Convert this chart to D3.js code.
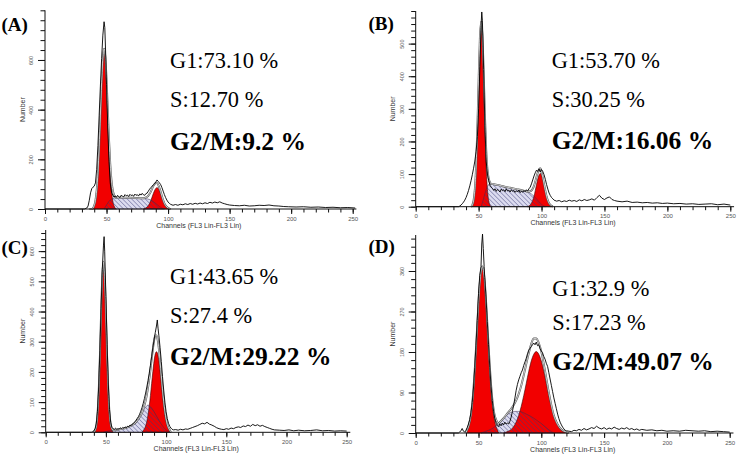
<!DOCTYPE html>
<html><head><meta charset="utf-8">
<script src="https://cdn.jsdelivr.net/npm/d3@7"></script>
<style>body{margin:0;background:#fff}svg{display:block}</style>
</head><body>
<svg id="chart" width="750" height="456"></svg>
<script>
// ---------------- DATA ----------------
const panelLabels = ["(A)", "(B)", "(C)", "(D)"];
const xTickValues = [0, 50, 100, 150, 200, 250];
const xTitle = "Channels (FL3 Lin-FL3 Lin)";
const yTitle = "Number";

const yTicksA = [0, 200, 400, 600];
const yTicksB = [0, 100, 200, 300, 400, 500];
const yTicksC = [0, 100, 200, 300, 400, 500, 600];
const yTicksD = [0, 90, 180, 270, 360];

const statsA = ["G1:73.10 %", "S:12.70 %", "G2/M:9.2 %"];
const statsB = ["G1:53.70 %", "S:30.25 %", "G2/M:16.06 %"];
const statsC = ["G1:43.65 %", "S:27.4 %", "G2/M:29.22 %"];
const statsD = ["G1:32.9 %", "S:17.23 %", "G2/M:49.07 %"];

// raw histograms [channel, count]
const rawA = [[0,0],[32,0],[34,4],[35,12],[36,35],[37,65],[38,82],[39,88],[40,92],[41,105],[42,160],[43,255],[44,375],[45,495],[46,605],[47,700],[48,754],[48.6,730],[49.2,640],[50,500],[51,330],[52,190],[53,105],[54,68],[55,56],[56,48],[57,53],[58,47],[59,55],[60,49],[61,46],[62,56],[63,51],[64,49],[65,58],[66,53],[67,56],[68,50],[69,59],[70,54],[71,57],[72,51],[73,60],[74,55],[75,58],[76,52],[77,61],[78,56],[79,63],[80,57],[81,55],[82,62],[83,64],[84,72],[85,80],[86,86],[87,92],[88,97],[89,101],[90,108],[91,117],[92,111],[93,105],[94,98],[95,86],[96,72],[97,58],[98,46],[99,36],[100,28],[101,23],[102,19],[104,15],[106,18],[108,15],[110,19],[112,17],[114,21],[116,18],[118,22],[120,19],[122,23],[124,20],[126,24],[128,21],[130,25],[132,22],[134,27],[136,24],[138,28],[140,25],[142,29],[144,24],[146,21],[148,18],[150,16],[154,14],[158,13],[162,15],[166,12],[170,13],[174,15],[178,14],[182,16],[186,13],[190,12],[194,10],[198,9],[204,8],[210,9],[216,7],[222,8],[228,6],[234,7],[240,5],[246,6],[252,4]];
const rawB = [[0,0],[34,0],[35,2],[36,5],[37,9],[38,14],[39,20],[40,28],[41,38],[42,50],[43,64],[44,80],[45,98],[46,118],[47,140],[48,170],[49,215],[50,300],[51,430],[52,560],[52.5,597],[53,570],[54,420],[55,250],[56,140],[57,100],[58,80],[59,66],[60,60],[61,56],[62,50],[63,55],[64,47],[65,53],[66,50],[67,45],[68,54],[69,49],[70,52],[71,46],[72,55],[73,48],[74,51],[75,45],[76,52],[77,47],[78,50],[79,44],[80,49],[81,45],[82,51],[83,43],[84,48],[85,44],[86,50],[87,46],[88,52],[89,48],[90,55],[91,60],[92,70],[93,82],[94,94],[95,104],[96,112],[97,108],[98,116],[99,106],[100,114],[101,108],[102,98],[103,84],[104,68],[105,54],[106,42],[107,34],[108,28],[109,24],[110,20],[112,17],[114,19],[116,15],[118,18],[120,16],[122,20],[124,17],[126,19],[128,16],[130,21],[132,18],[134,22],[136,19],[138,21],[140,24],[142,20],[144,28],[146,35],[148,26],[150,22],[152,27],[154,30],[156,22],[158,19],[160,17],[164,15],[168,17],[172,13],[176,14],[180,12],[184,13],[188,11],[192,12],[196,10],[200,11],[205,9],[210,10],[215,8],[220,9],[225,7],[230,8],[235,9],[240,6],[245,8],[250,5]];
const rawC = [[0,0],[38,0],[39,2],[40,5],[41,12],[42,28],[43,70],[44,150],[45,270],[46,410],[47,540],[48,620],[48.5,648],[49,600],[50,450],[51,290],[52,160],[53,75],[54,32],[55,16],[56,12],[57,10],[58,14],[59,9],[60,12],[61,10],[62,15],[63,12],[64,16],[65,13],[66,18],[67,15],[68,20],[69,18],[70,24],[71,22],[72,28],[73,30],[74,35],[75,40],[76,46],[77,52],[78,60],[79,70],[80,82],[81,96],[82,112],[83,130],[84,150],[85,172],[86,196],[87,222],[88,250],[89,280],[90,305],[91,330],[92,352],[92.7,372],[93.3,345],[94,320],[95,280],[96,235],[97,185],[98,140],[99,100],[100,68],[101,45],[102,30],[103,20],[104,14],[105,10],[106,8],[108,9],[110,7],[112,10],[114,8],[116,11],[118,10],[120,13],[122,16],[124,19],[126,22],[128,26],[130,30],[132,28],[134,33],[136,27],[138,24],[140,20],[142,15],[144,12],[146,10],[148,9],[150,12],[152,10],[154,14],[156,12],[158,16],[160,18],[162,16],[164,21],[166,19],[168,24],[170,20],[172,26],[174,22],[176,25],[178,20],[180,23],[182,19],[184,16],[186,13],[188,10],[190,8],[194,7],[198,6],[202,8],[206,5],[210,7],[215,5],[220,6],[225,8],[230,5],[235,6],[240,4],[245,5],[250,4]];
const rawD = [[0,0],[34,0],[35,2],[36,5],[37,10],[38,4],[39,2],[40,6],[41,12],[42,20],[43,30],[44,45],[45,68],[46,100],[47,145],[48,195],[49,250],[50,310],[51,350],[52,370],[52.6,420],[53.2,442],[53.8,410],[54.5,370],[55,345],[56,300],[57,248],[58,196],[59,146],[60,104],[61,72],[62,48],[63,32],[64,22],[65,16],[66,14],[67,20],[68,16],[69,22],[70,18],[71,24],[72,20],[73,22],[74,20],[75,26],[76,35],[77,48],[78,62],[79,78],[80,95],[81,108],[82,118],[83,126],[84,134],[85,140],[86,150],[87,158],[88,166],[89,176],[90,184],[91,188],[92,192],[93,196],[94,200],[95,196],[96,202],[97,194],[98,196],[99,188],[100,182],[101,178],[102,170],[103,164],[104,155],[105,148],[106,134],[107,120],[108,106],[109,92],[110,78],[111,66],[112,54],[113,42],[114,32],[115,24],[116,18],[117,13],[118,9],[119,6],[120,5],[122,4],[124,3],[126,6],[128,5],[130,8],[132,6],[134,10],[136,7],[138,9],[140,12],[142,10],[144,15],[146,11],[148,9],[150,12],[152,8],[154,11],[156,9],[158,13],[160,10],[162,8],[164,11],[166,9],[168,12],[170,8],[172,10],[174,7],[176,9],[178,6],[180,8],[184,6],[188,7],[192,5],[196,6],[200,4],[205,5],[210,4],[215,6],[220,5],[225,4],[230,5],[235,3],[240,4],[245,3],[250,2]];

// model components: G1 peak, G2 peak, S phase, total fit
const g1A = [[38,0],[39,4],[40,14],[41,35],[42,76],[43,146],[44,250],[45,378],[46,508],[47,607],[48,645],[49,607],[50,508],[51,378],[52,250],[53,146],[54,76],[55,35],[56,14],[57,4],[58,0]];
const g2A = [[80,0],[81,2],[82,4.5],[83,8],[84,14],[85,23],[86,34],[87,48],[88,62],[89,74],[90,83],[91,86],[92,83],[93,74],[94,62],[95,48],[96,34],[97,23],[98,14],[99,8],[100,4.5],[101,2],[102,0]];
const sA = [[48,0],[49,8],[50,16],[51,24],[52,31],[53,36],[54,40],[55,43],[57,45],[60,46],[65,45],[70,45],[75,44],[80,43],[83,41],[85,38],[87,33],[89,26],[91,18],[93,10],[95,4],[97,0]];
const fitA = [[36,0],[38,0],[39,4],[40,14],[41,35],[42,76],[43,146],[44,250],[45,378],[46,508],[47,607],[48,645],[49,615],[50,524],[51,402],[52,281],[53,182],[54,116],[55,78],[56,58],[57,49],[58,45.5],[60,46],[70,45],[80,43],[81,44],[82,46.5],[83,49],[84,54],[85,61],[86,70],[87,81],[88,92],[89,100],[90,105],[91,104],[92,97],[93,84],[94,69],[95,52],[96,36],[97,23],[98,14],[99,8],[100,4.5],[101,2],[102,0]];

const g1B = [[44,0],[45,5],[46,19],[47,53],[48,125],[49,242],[50,388],[51,516],[52,567],[53,516],[54,388],[55,242],[56,125],[57,53],[58,19],[59,5],[60,0]];
const g2B = [[89,0],[90,2.5],[91,5.4],[92,10.8],[93,19.6],[94,32],[95,49],[96,67.5],[97,85],[98,97],[99,102],[100,97],[101,85],[102,67.5],[103,49],[104,32],[105,19.6],[106,10.8],[107,5.4],[108,2.5],[109,0]];
const sB = [[52,0],[53,12],[54,26],[55,40],[56,52],[57,62],[58,68],[59,70],[62,69],[66,66],[70,62],[75,58],[80,54],[85,50],[88,47],[90,44],[92,39],[94,32],[96,24],[98,15],[100,7],[102,2],[103,0]];
const fitB = [[44,0],[45,5],[46,19],[47,53],[48,125],[49,242],[50,388],[51,516],[52,567],[53,528],[54,414],[55,282],[56,177],[57,115],[58,87],[59,75],[60,70],[62,69],[66,66],[70,62],[75,58],[80,54],[85,50],[88,47],[89,45.5],[90,46.5],[91,47.4],[92,49.8],[93,55],[94,64],[95,77],[96,91.5],[97,104.5],[98,114],[99,118],[100,108],[101,90],[102,70],[103,50],[104,32],[105,19.6],[106,10.8],[107,5.4],[108,2.5],[109,0]];

const g1C = [[40,0],[41,6.6],[42,21.6],[43,59],[44,133],[45,250],[46,393],[47,516],[48,565],[49,516],[50,393],[51,250],[52,133],[53,59],[54,21.6],[55,6.6],[56,0]];
const g2C = [[80,0],[81,6],[82,11.7],[83,21],[84,36],[85,58],[86,87],[87,122],[88,162],[89,201],[90,236],[91,259],[92,267],[93,259],[94,236],[95,201],[96,162],[97,122],[98,87],[99,58],[100,36],[101,21],[102,11.7],[103,6],[104,0]];
const sC = [[48,0],[52,4],[56,7],[60,9],[64,12],[68,16],[72,24],[75,34],[78,50],[80,64],[82,78],[84,88],[85,90],[86,88],[88,80],[90,68],[92,54],[94,40],[96,27],[98,16],[100,8],[102,3],[104,0]];
const fitC = [[40,0],[41,6.6],[42,21.6],[43,59],[44,133],[45,250],[46,393],[47,516],[48,565],[49,517],[50,395],[51,252],[52,137],[53,64],[54,26],[55,11.5],[56,7],[60,9],[64,12],[68,16],[72,24],[75,34],[78,50],[80,64],[81,77],[82,89.7],[83,104],[84,124],[85,148],[86,175],[87,207],[88,242],[89,275],[90,304],[91,320],[92,321],[93,306],[94,276],[95,234],[96,189],[97,144],[98,103],[99,70],[100,44],[101,26],[102,14.7],[103,7.5],[104,0]];

const g1D = [[40,0],[41,7.6],[42,14],[43,25],[44,41],[45,65],[46,98],[47,140],[48,188],[49,240],[50,290],[51,332],[52,360],[53,370],[54,360],[55,332],[56,290],[57,240],[58,188],[59,140],[60,98],[61,65],[62,41],[63,25],[64,14],[65,7.6],[66,0]];
const g2D = [[70,0],[72,2],[74,4.2],[76,7.9],[78,14.4],[80,24.5],[82,39],[84,59],[86,83],[88,110],[90,137],[92,160],[94,175],[96,181],[98,175],[100,160],[102,137],[104,110],[106,83],[108,59],[110,39],[112,24.5],[114,14.4],[116,7.9],[118,4.2],[120,2],[122,0]];
const sD = [[52,0],[55,3],[58,6],[61,10],[64,16],[67,24],[70,33],[73,41],[76,46],[79,48],[82,48],[85,46],[88,42],[91,38],[94,33],[97,27],[100,21],[103,14],[106,7],[108,3],[110,0]];
const fitD = [[40,0],[41,7.6],[42,14],[43,25],[44,41],[45,65],[46,98],[47,140],[48,188],[49,240],[50,290],[51,332],[52,360],[53,370],[54,361],[55,335],[56,294],[57,245],[58,194],[59,148],[60,107],[61,75],[62,53],[63,38],[64,30],[65,24],[66,21],[67,24],[68,27],[70,33],[72,40],[74,47],[76,54],[78,62],[80,72.5],[82,87],[84,105],[86,128],[88,153],[90,177],[92,198],[94,210],[96,210],[98,200],[100,181],[102,153],[104,122],[106,90],[108,62],[110,39],[112,24.5],[114,14.4],[116,7.9],[118,4.2],[120,2],[122,0]];

// ---------------- LAYOUT ----------------
const layout = [
  {x0:45,    x1:352.7, y0:209,   yTop:10.3, ymax:800, minor:40, lx:1.5, ly:31,  tx:170,   ty:[68.3,107.3,150]},
  {x0:415.7, x1:730.3, y0:206.7, yTop:11,   ymax:600, minor:20, lx:368.5, ly:29.5, tx:551.7, ty:[68.3,107.3,149.3]},
  {x0:45.7,  x1:346.7, y0:432.3, yTop:230,  ymax:670, minor:20, lx:1.5, ly:254, tx:170,   ty:[284,323,364.7]},
  {x0:415.7, x1:729.7, y0:433,   yTop:235,  ymax:440, minor:18, lx:368.5, ly:253, tx:552.3, ty:[296.3,329.7,369.7]}
];
const panels = [
  {raw:rawA, g1:g1A, g2:g2A, s:sA, fit:fitA, yTicks:yTicksA, stats:statsA},
  {raw:rawB, g1:g1B, g2:g2B, s:sB, fit:fitB, yTicks:yTicksB, stats:statsB},
  {raw:rawC, g1:g1C, g2:g2C, s:sC, fit:fitC, yTicks:yTicksC, stats:statsC},
  {raw:rawD, g1:g1D, g2:g2D, s:sD, fit:fitD, yTicks:yTicksD, stats:statsD}
];

const svg = d3.select("#chart");
const defs = svg.append("defs");
const pat = defs.append("pattern").attr("id","hatch").attr("width",3.2).attr("height",3.2)
  .attr("patternUnits","userSpaceOnUse").attr("patternTransform","rotate(-45)");
pat.append("line").attr("x1",0).attr("y1",0).attr("x2",0).attr("y2",3.2)
  .attr("stroke","#3c3c7a").attr("stroke-width",0.8);

const sansFont = "'Liberation Sans', Arial, sans-serif";
const serifFont = "'Liberation Serif', 'Times New Roman', serif";

panels.forEach((p, i) => {
  const L = layout[i];
  const g = svg.append("g");
  const x = d3.scaleLinear().domain([0, 250]).range([L.x0, L.x1]);
  const y = d3.scaleLinear().domain([0, L.ymax]).range([L.y0, L.yTop]);
  const areaGen = d3.area().x(d => x(d[0])).y0(y(0)).y1(d => y(d[1])).curve(d3.curveMonotoneX);
  const lineSmooth = d3.line().x(d => x(d[0])).y(d => y(d[1])).curve(d3.curveMonotoneX);
  const lineRaw = d3.line().x(d => x(d[0])).y(d => y(d[1]));

  // S phase (lavender base)
  g.append("path").datum(p.s).attr("d", areaGen).attr("fill", "#dcdcf0").attr("stroke", "none");
  // G1 & G2 peaks
  [p.g1, p.g2].forEach(pk => {
    g.append("path").datum(pk).attr("d", areaGen)
      .attr("fill", "#f20000").attr("stroke", "#3a0000").attr("stroke-width", 0.6);
  });
  // S phase hatch overlay
  g.append("path").datum(p.s).attr("d", areaGen).attr("fill", "url(#hatch)")
    .attr("stroke", "#3a2a50").attr("stroke-width", 0.5);
  // model fit envelope (double line)
  g.append("path").datum(p.fit).attr("d", lineSmooth).attr("fill", "none")
    .attr("stroke", "#555").attr("stroke-width", 1.9);
  g.append("path").datum(p.fit).attr("d", lineSmooth).attr("fill", "none")
    .attr("stroke", "#fff").attr("stroke-width", 0.7);
  // raw histogram
  g.append("path").datum(p.raw).attr("d", lineRaw).attr("fill", "none")
    .attr("stroke", "#000").attr("stroke-width", 0.9).attr("stroke-linejoin", "round");

  // axes
  const yMinor = d3.axisLeft(y).tickValues(d3.range(0, L.ymax + 0.01, L.minor)).tickSize(4.5).tickFormat("").tickSizeOuter(0);
  const yMajor = d3.axisLeft(y).tickValues(p.yTicks).tickSize(7).tickSizeOuter(0);
  const xMinor = d3.axisBottom(x).tickValues(d3.range(0, 251, 10)).tickSize(3.5).tickFormat("").tickSizeOuter(0);
  const xMajor = d3.axisBottom(x).tickValues(xTickValues).tickSize(5).tickSizeOuter(0);

  [yMinor, yMajor].forEach(ax => {
    const a = g.append("g").attr("transform", `translate(${L.x0},0)`).call(ax);
    a.select(".domain").remove();
    a.selectAll("line").attr("stroke", "#111");
    a.selectAll("text").attr("x", 0).attr("y", 0).attr("dy", 0)
      .attr("text-anchor", "middle").attr("transform", "translate(-12,0) rotate(-90)")
      .attr("font-family", sansFont).attr("font-size", 5.5).attr("fill", "#555");
  });
  [xMinor, xMajor].forEach(ax => {
    const a = g.append("g").attr("transform", `translate(0,${L.y0})`).call(ax);
    a.select(".domain").remove();
    a.selectAll("line").attr("stroke", "#111");
    a.selectAll("text").attr("y", 11.5).attr("dy", 0)
      .attr("font-family", sansFont).attr("font-size", 6).attr("fill", "#555");
  });
  g.append("line").attr("x1", L.x0).attr("x2", L.x0).attr("y1", y(0)).attr("y2", L.yTop)
    .attr("stroke", "#111").attr("stroke-width", 1);
  g.append("line").attr("x1", L.x0).attr("x2", x(253)).attr("y1", y(0)).attr("y2", y(0))
    .attr("stroke", "#111").attr("stroke-width", 1);

  // axis titles
  g.append("text").attr("x", (L.x0 + L.x1) / 2).attr("y", L.y0 + 18.5)
    .attr("text-anchor", "middle").attr("font-family", sansFont).attr("font-size", 7).attr("fill", "#333")
    .text(xTitle);
  g.append("text").attr("transform", `translate(${L.x0 - 20.5},${(L.y0 + L.yTop) / 2}) rotate(-90)`)
    .attr("text-anchor", "middle").attr("font-family", sansFont).attr("font-size", 7).attr("fill", "#333")
    .text(yTitle);

  // panel label
  g.append("text").attr("x", L.lx).attr("y", L.ly).attr("font-family", serifFont)
    .attr("font-weight", "bold").attr("font-size", 19).attr("fill", "#000").text(panelLabels[i]);

  // statistics
  p.stats.forEach((s, k) => {
    g.append("text").attr("x", L.tx).attr("y", L.ty[k]).attr("font-family", serifFont)
      .attr("font-size", k === 2 ? 25.5 : 22.4).attr("font-weight", k === 2 ? "bold" : "normal")
      .attr("fill", "#000").text(s);
  });
});
</script>
</body></html>
